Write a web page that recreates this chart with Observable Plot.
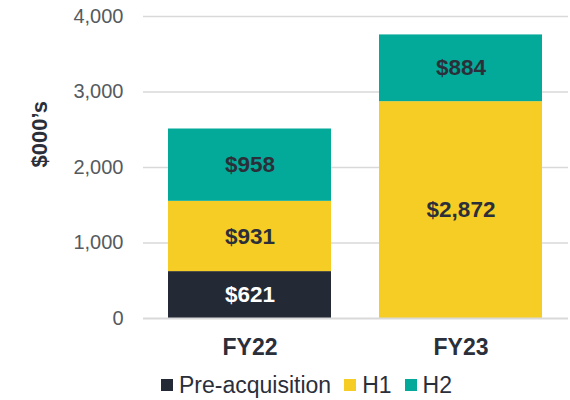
<!DOCTYPE html>
<html>
<head>
<meta charset="utf-8">
<script src="https://cdn.jsdelivr.net/npm/d3@7"></script>
<script src="https://cdn.jsdelivr.net/npm/@observablehq/plot@0.6"></script>
<style>
  html, body { margin: 0; padding: 0; background: #fff; }
  body { width: 570px; height: 400px; overflow: hidden; font-family: "Liberation Sans", Arial, sans-serif; }
  #legend { display: flex; align-items: center; padding-left: 161px; margin-top: 6px; font-size: 23px; line-height: 26px; color: #2b2f3a; }
  .item { display: flex; align-items: center; margin-right: 13px; }
  .sw { width: 12px; height: 12px; margin-right: 6px; }
</style>
</head>
<body>
<div id="chart"></div>
<div id="legend"></div>
<script>
const categories = ["FY22", "FY23"];
const seriesNames = ["Pre-acquisition", "H1", "H2"];
const preAcquisition = [621, 0];
const h1 = [931, 2872];
const h2 = [958, 884];
const yTicks = [0, 1000, 2000, 3000, 4000];
const colors = ["#242936", "#f6cd25", "#04aa99"];

const seriesValues = [preAcquisition, h1, h2];
const data = [];
seriesNames.forEach((s, si) => {
  categories.forEach((c, ci) => {
    const v = seriesValues[si][ci];
    if (v > 0) data.push({category: c, series: s, value: v});
  });
});

const fmt = d3.format(",");

const chart = Plot.plot({
  width: 570,
  height: 366,
  marginLeft: 143,
  marginRight: 2,
  marginTop: 16,
  marginBottom: 48,
  style: {fontFamily: "'Liberation Sans', Arial, sans-serif", background: "#fff"},
  x: {domain: categories, paddingInner: 0.226, paddingOuter: 0.118, label: null},
  y: {domain: [0, 4000], label: null},
  color: {domain: seriesNames, range: colors},
  marks: [
    Plot.ruleY(yTicks.filter(d => d > 0), {stroke: "#d9d9d9", strokeWidth: 1.5}),
    Plot.barY(data, {x: "category", y: "value", fill: "series", order: seriesNames}),
    Plot.ruleY([0], {stroke: "#d9d9d9", strokeWidth: 2}),
    Plot.text(data, Plot.stackY({
      x: "category", y: "value", z: "series", order: seriesNames,
      text: d => "$" + fmt(d.value),
      fill: d => d.series === "Pre-acquisition" ? "#ffffff" : "#2b2f3a",
      fontWeight: "bold", fontSize: 22.5
    })),
    Plot.axisY({ticks: yTicks, tickFormat: d => fmt(d), tickSize: 0, tickPadding: 20, fontSize: 20, color: "#555a60", label: null, ariaLabel: "y-axis"}),
    Plot.axisX({tickSize: 0, tickPadding: 20, fontSize: 23, fontWeight: "bold", color: "#2b2f3a", label: null, ariaLabel: "x-axis"}),
    Plot.text(["$000’s"], {frameAnchor: "left", dx: -104, rotate: -90, fontWeight: "bold", fontSize: 22, fill: "#2b2f3a"})
  ]
});
// ensure axis font sizes
d3.select(chart).selectAll('g[aria-label="y-axis tick label"], g[aria-label="y-axis"]').attr("font-size", 20);
d3.select(chart).selectAll('g[aria-label="x-axis tick label"], g[aria-label="x-axis"]').attr("font-size", 23).attr("font-weight", "bold");
document.getElementById("chart").appendChild(chart);

const legend = document.getElementById("legend");
seriesNames.forEach((s, i) => {
  const item = document.createElement("div");
  item.className = "item";
  const sw = document.createElement("div");
  sw.className = "sw";
  sw.style.background = colors[i];
  const t = document.createElement("span");
  t.textContent = s;
  item.appendChild(sw);
  item.appendChild(t);
  legend.appendChild(item);
});
</script>
</body>
</html>
